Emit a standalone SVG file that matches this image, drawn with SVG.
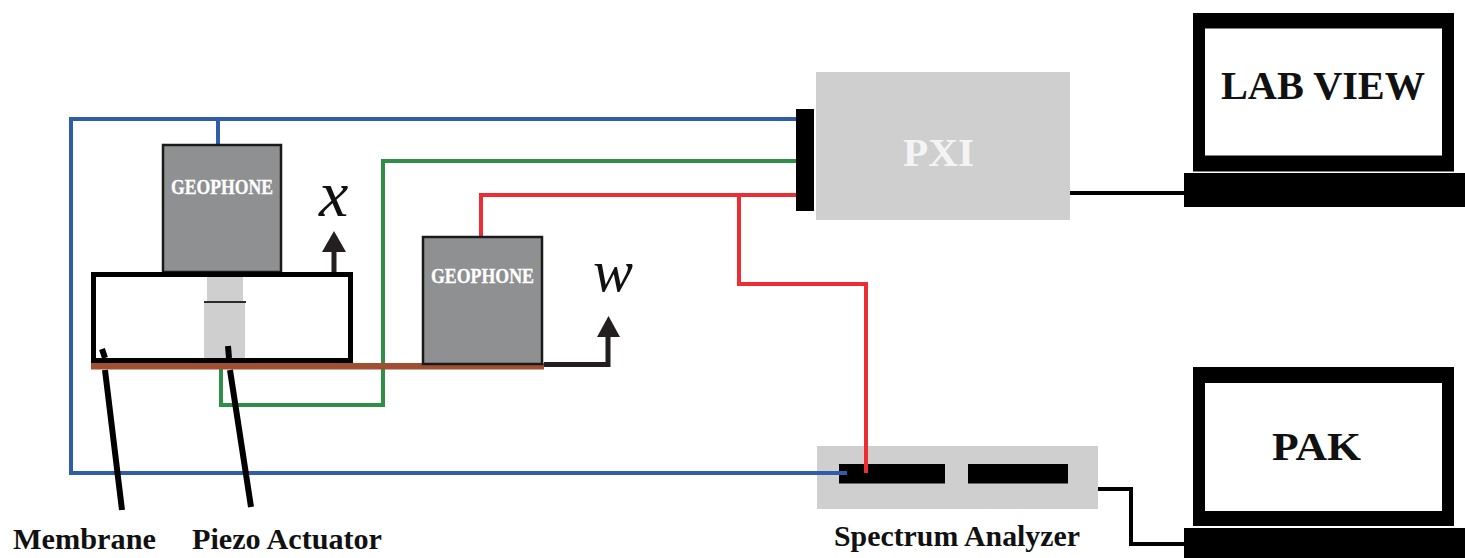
<svg xmlns="http://www.w3.org/2000/svg" width="1465" height="558" viewBox="0 0 1465 558">
<defs>
<style>
.w{fill:none;stroke-width:4}
.blue{stroke:#2f5dac}.green{stroke:#2f8f47}.red{stroke:#ee2c34}.blk{fill:none;stroke:#000;stroke-width:4}
.ark{fill:none;stroke:#231f20;stroke-width:5}
.lead{fill:none;stroke:#000;stroke-width:6}
.t{font-family:"Liberation Serif",serif;font-weight:bold;fill:#111}
.big{font-size:41px}
.lab{font-size:30px}
.geo{font-family:"Liberation Serif",serif;font-weight:bold;font-size:20px;fill:#fff;stroke:#fff;stroke-width:.3}
.math{font-family:"Liberation Serif",serif;font-style:italic;fill:#111}
.g{fill:#8f9091;stroke:#1a1a1a;stroke-width:2.5}
.l{fill:#cfcfcf}
</style>
</defs>
<rect width="1465" height="558" fill="#fff"/>
<g id="connectors">
<path class="w blue" d="M797 119H71V473H848"/>
<path class="w blue" d="M218 119V146"/>
<path class="w green" d="M797 161H383V405H221V368"/>
<path class="w red" d="M797 195H481V238"/>
<path class="w red" d="M739 195V284H866V473"/>
<path class="blk" d="M1068 193H1186"/>
<path class="blk" d="M1098 489H1131V544H1186"/>
</g>
<g id="geophone-1">
<rect class="g" x="163" y="145" width="118" height="127"/>
<text class="geo" x="171" y="193.500" textLength="102" lengthAdjust="spacingAndGlyphs">GEOPHONE</text>
</g>
<g id="piezo">
<rect class="l" x="207" y="277" width="36" height="25"/>
<rect class="l" x="204" y="302" width="41" height="57"/>
<path d="M204 302H246" stroke="#2b2b2b" stroke-width="2"/>
</g>
<g id="frame">
<rect x="93.500" y="274.500" width="257" height="86" fill="none" stroke="#000" stroke-width="5"/>
</g>
<g id="membrane">
<rect x="91" y="363" width="453" height="6.500" fill="#a04f32"/>
</g>
<g id="geophone-2">
<rect class="g" x="423" y="237" width="119" height="127"/>
<text class="geo" x="431" y="283" textLength="103" lengthAdjust="spacingAndGlyphs">GEOPHONE</text>
</g>
<g id="arrow-x">
<path class="ark" d="M334 272V250"/>
<path d="M334 231L346 252H322Z" fill="#231f20"/>
<text class="math" x="319" y="216" font-size="66">x</text>
</g>
<g id="arrow-w">
<path class="ark" d="M544 364.500H608V335"/>
<path d="M608.500 316L620 337H597Z" fill="#231f20"/>
<text class="math" x="593" y="291" font-size="60">w</text>
</g>
<g id="pxi">
<rect class="l" x="816" y="72" width="254" height="148"/>
<rect x="796" y="109" width="18" height="102" fill="#000"/>
<text x="903" y="166" font-family="Liberation Serif,serif" font-size="41" font-weight="bold" fill="#f4f4f4" textLength="71" lengthAdjust="spacingAndGlyphs">PXI</text>
</g>
<g id="lab-view">
<path fill-rule="evenodd" d="M1193 13H1454V171.500H1193ZM1205 28.500V155.500H1442V28.500Z" fill="#000"/>
<path d="M1184 173H1465V207H1184Z" fill="#000"/>
<text class="t big" x="1221" y="99" textLength="204" lengthAdjust="spacingAndGlyphs">LAB VIEW</text>
</g>
<g id="spectrum-analyzer">
<rect class="l" x="817" y="446" width="281" height="63"/>
<rect x="839" y="464" width="106" height="19.500" fill="#000"/>
<rect x="968" y="464" width="100" height="19.500" fill="#000"/>
<path class="w blue" d="M817 473H847"/>
<path class="w red" d="M866 446V473"/>
<text class="t lab" x="834" y="546" textLength="246" lengthAdjust="spacingAndGlyphs">Spectrum Analyzer</text>
</g>
<g id="pak">
<path fill-rule="evenodd" d="M1193 367H1454V526H1193ZM1205 383V511H1442V383Z" fill="#000"/>
<path d="M1184 528H1465V558H1184Z" fill="#000"/>
<text class="t big" x="1272" y="460" textLength="89" lengthAdjust="spacingAndGlyphs">PAK</text>
</g>
<g id="label-membrane">
<path class="lead" d="M102 349L105 358M105 370L122 510"/>
<text class="t lab" x="13" y="549" textLength="143" lengthAdjust="spacingAndGlyphs">Membrane</text>
</g>
<g id="label-piezo">
<path class="lead" d="M228 346L229 358M230 370L251 507"/>
<text class="t lab" x="192" y="549" textLength="190" lengthAdjust="spacingAndGlyphs">Piezo Actuator</text>
</g>
</svg>
